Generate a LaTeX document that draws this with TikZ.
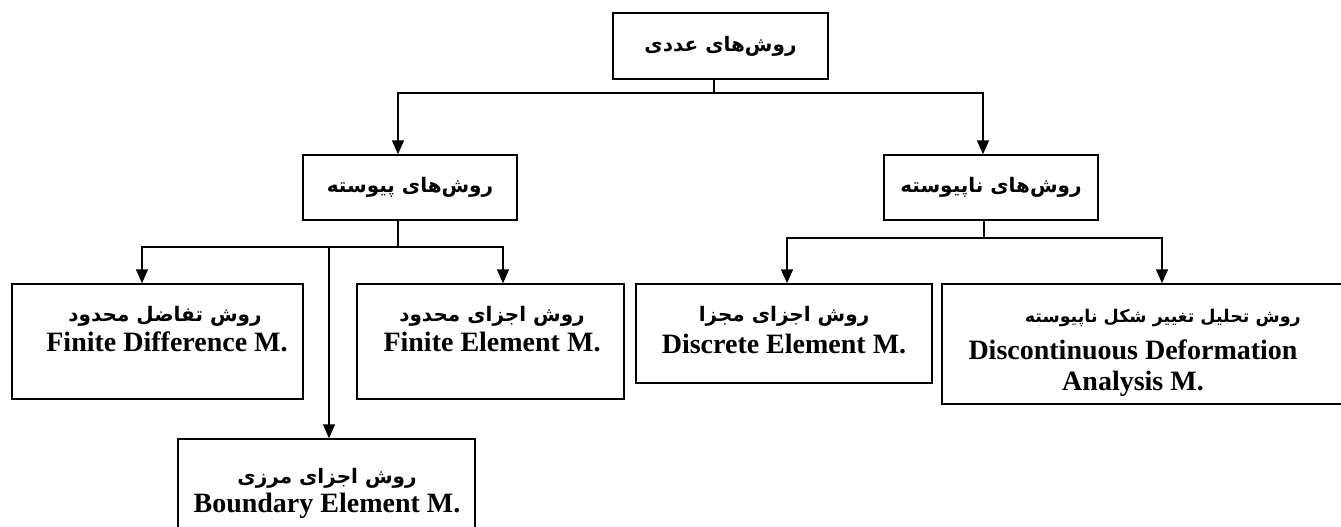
\documentclass[tikz,border=0pt]{standalone}
\usepackage{fontspec}
\setmainfont{Liberation Serif}
\newfontfamily\farsifont[Script=Arabic]{DejaVu Sans}
\TeXXeTstate=1
\usetikzlibrary{arrows.meta}
\newcommand\FA[1]{{\farsifont\bfseries\beginR #1\endR}}
\begin{document}
\begin{tikzpicture}[x=1pt,y=-1pt,
  box/.style={draw, line width=1.5pt, inner sep=0pt},
  eng/.style={font=\fontsize{28}{30}\selectfont\bfseries, inner sep=0pt, anchor=base},
  farsi/.style={font=\fontsize{20}{24}\selectfont, inner sep=0pt},
  conn/.style={line width=1.6pt},
  arr/.style={conn, -{Triangle[length=14pt,width=12pt]}}]
\useasboundingbox (0,0) rectangle (1341,527);
\clip (0,0) rectangle (1341,527);

% boxes
\node[box, farsi, minimum width=215pt, minimum height=66pt] (top) at (720.5,46) {\FA{روش‌های عددی}};
\node[box, farsi, minimum width=214pt, minimum height=65pt] (cont) at (410,187.5) {\FA{روش‌های پیوسته}};
\node[box, farsi, minimum width=214pt, minimum height=65pt] (disc) at (991,187.5) {\FA{روش‌های ناپیوسته}};
\node[box, minimum width=291pt, minimum height=115pt] (fd) at (157.5,341.5) {};
\node[box, minimum width=267pt, minimum height=115pt] (fe) at (490.5,341.5) {};
\node[box, minimum width=296pt, minimum height=99pt] (de) at (784,333.5) {};
\node[box, minimum width=403pt, minimum height=120pt] (dda) at (1143.5,344) {};
\node[box, minimum width=297pt, minimum height=106pt] (be) at (326.5,492) {};

% texts
\node[farsi] (fdfa) at (165,316) {\FA{روش تفاضل محدود}};
\node[eng] (fden) at (167,351) {Finite Difference M.};
\node[farsi] (fefa) at (492,316) {\FA{روش اجزای محدود}};
\node[eng] (feen) at (492,351) {Finite Element M.};
\node[farsi] (defa) at (784,316) {\FA{روش اجزای مجزا}};
\node[eng] (deen) at (784,353) {Discrete Element M.};
\node[farsi, font=\fontsize{17.5}{22}\selectfont, anchor=east] (ddafa) at (1301,318) {\FA{روش تحلیل تغییر شکل ناپیوسته}};
\node[eng] (ddaen1) at (1133,359) {Discontinuous Deformation};
\node[eng] (ddaen2) at (1133,390) {Analysis M.};
\node[farsi] (befa) at (327,478) {\FA{روش اجزای مرزی}};
\node[eng] (been) at (327,512) {Boundary Element M.};

% connectors
\coordinate (j1) at (714,93);
\draw[conn] (top.south -| j1) -- (j1);
\draw[arr] (j1) -| ([xshift=-12pt]cont.north);
\draw[arr] (j1) -| ([xshift=-8pt]disc.north);

\coordinate (j2) at (398,247);
\coordinate (bein) at ([xshift=2.5pt]be.north);
\draw[conn] (cont.south -| j2) -- (j2);
\draw[arr] (j2) -| ([xshift=-15.5pt]fd.north);
\draw[arr] (j2) -| ([xshift=12.5pt]fe.north);
\draw[arr] (j2 -| bein) -- (bein);

\coordinate (j3) at (984,238);
\draw[conn] (disc.south -| j3) -- (j3);
\draw[arr] (j3) -| ([xshift=3pt]de.north);
\draw[arr] (j3) -| ([xshift=18.5pt]dda.north);
\end{tikzpicture}
\end{document}
